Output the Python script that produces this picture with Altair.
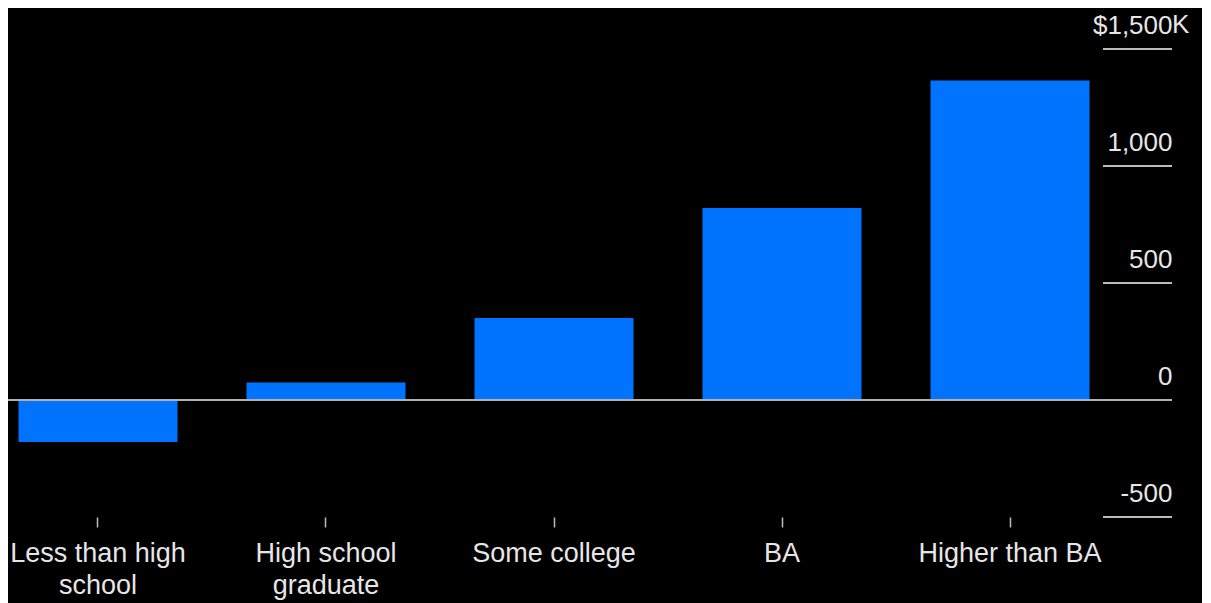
import altair as alt
import pandas as pd

categories = ["Less than high\nschool", "High school\ngraduate", "Some college", "BA", "Higher than BA"]
values = [-180, 75, 350, 820, 1365]
y_ticks = [-500, 0, 500, 1000, 1500]
grid_values = [-500, 500, 1000, 1500]

W = 1164
H = 468
FONT = "Liberation Sans"
TXT = "#e6e6e6"
BLUE = "#0073ff"

df = pd.DataFrame({"cat": categories, "val": values})
grid_df = pd.DataFrame({"v": grid_values})

x_enc = alt.X(
    "cat:N",
    sort=categories,
    scale=alt.Scale(range=[0, 1092], paddingInner=0.3026, paddingOuter=0.046),
    axis=alt.Axis(
        title=None, domain=False, ticks=True, tickSize=10, tickColor="#bbbbbb",
        tickWidth=1.5, labelAngle=0, labelFont=FONT, labelFontSize=27,
        labelColor=TXT, labelPadding=13, labelLineHeight=32,
        labelBaseline="top", labelLimit=400,
        labelExpr="split(datum.label, '\\n')",
    ),
)

y_scale = alt.Scale(domain=[-500, 1500], nice=False)

bars = alt.Chart(df).mark_bar(color=BLUE).encode(
    x=x_enc,
    y=alt.Y(
        "val:Q",
        scale=y_scale,
        axis=alt.Axis(
            title=None, orient="right", values=y_ticks, domain=False, ticks=False,
            tickSize=0, grid=False, labelAlign="right", labelPadding=0,
            labelBaseline="alphabetic", labelOffset=-16, labelFont=FONT,
            labelFontSize=26, labelColor=TXT,
            labelExpr="datum.value == 1500 ? '$1,500' : replace(format(datum.value, ','), '\u2212', '-')",
        ),
    ),
)

zero = alt.Chart(pd.DataFrame({"z": [0]})).mark_rule(color="#b0b0b0", strokeWidth=2).encode(
    y=alt.Y("z:Q", scale=y_scale),
    x=alt.value(0),
    x2=alt.value(W),
)

grid = alt.Chart(grid_df).mark_rule(color="#bbbbbb", strokeWidth=2).encode(
    y=alt.Y("v:Q", scale=y_scale),
    x=alt.value(1095),
    x2=alt.value(W),
)

k_label = alt.Chart(pd.DataFrame({"v": [1500], "t": ["K"]})).mark_text(
    align="left", baseline="alphabetic", dy=-16, font=FONT, fontSize=26, color=TXT
).encode(
    y=alt.Y("v:Q", scale=y_scale),
    x=alt.value(W),
    text="t:N",
)

chart = alt.layer(bars, zero, grid, k_label).properties(
    width=W,
    height=H,
    autosize=alt.AutoSizeParams(type="none"),
    padding={"left": 0, "top": 41, "right": 30, "bottom": 86},
    background="#000000",
).configure_view(stroke=None)

chart.save("out.html", embed_options={"renderer": "svg", "actions": False})
